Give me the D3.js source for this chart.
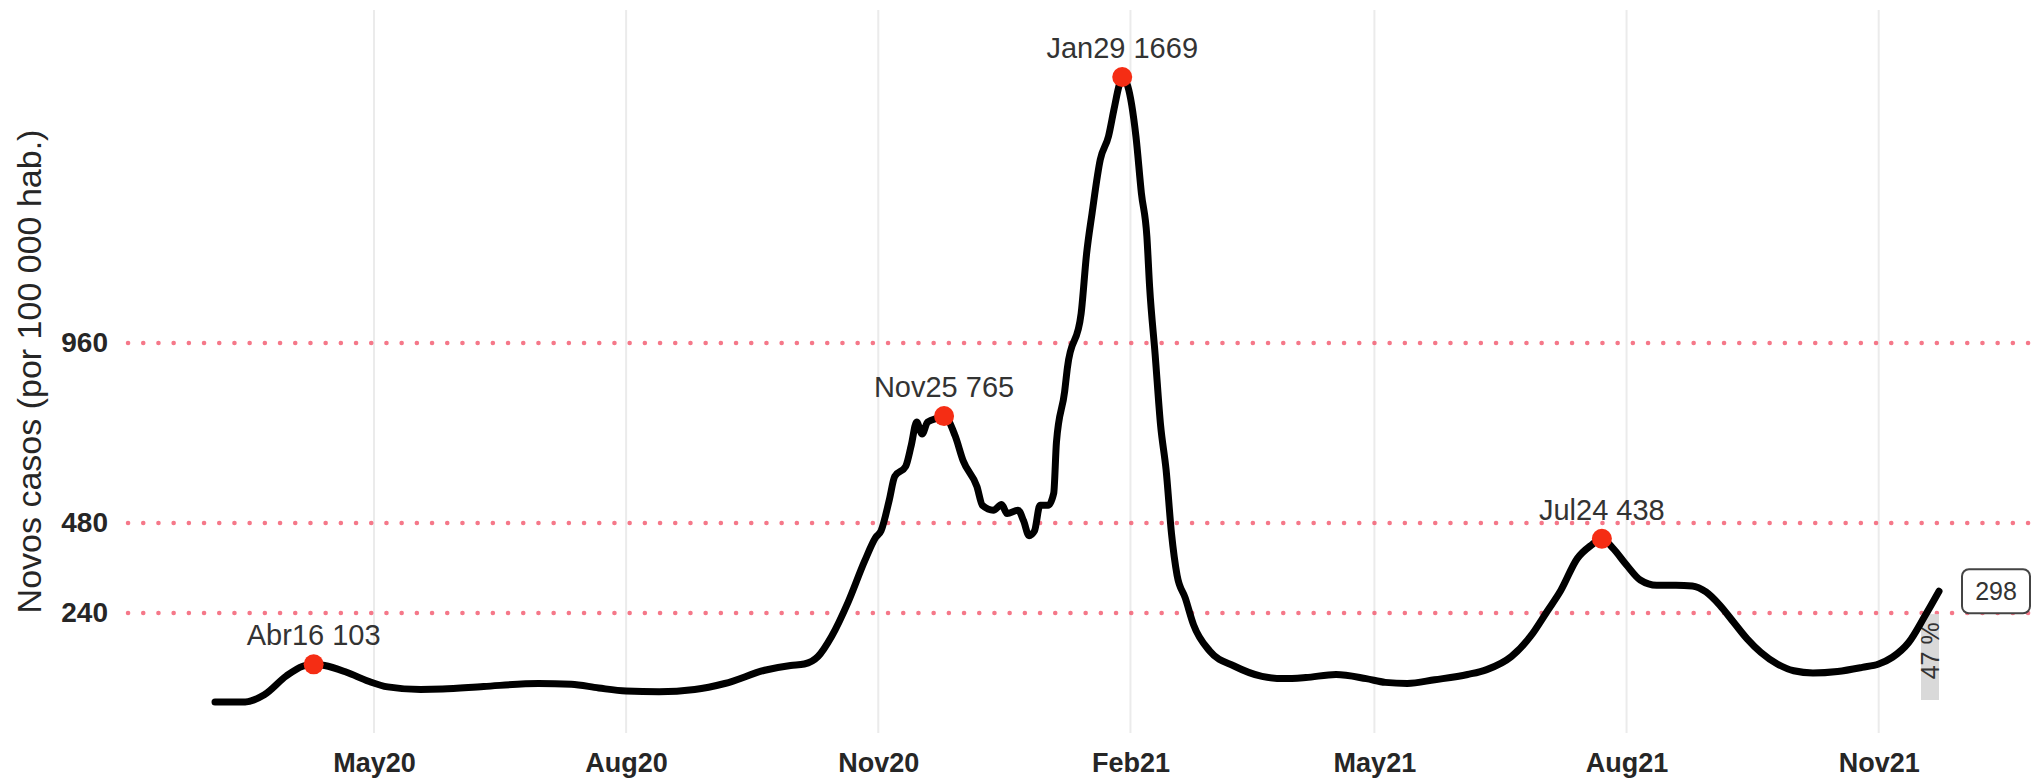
<!DOCTYPE html>
<html>
<head>
<meta charset="utf-8">
<script src="https://cdn.jsdelivr.net/npm/d3@7"></script>
<style>
  body { margin: 0; background: #fff; }
  svg { display: block; font-family: "Liberation Sans", Arial, sans-serif; }
</style>
</head>
<body>
<svg id="chart" width="2039" height="782"></svg>
<script>
// daily new cases per 100 000
const dates = [
  "2020-03-04","2020-03-15","2020-03-22","2020-03-30","2020-04-05","2020-04-09","2020-04-13","2020-04-21","2020-04-29",
  "2020-05-06","2020-05-18","2020-05-26","2020-06-10","2020-06-30","2020-07-12","2020-07-22","2020-08-01","2020-08-13",
  "2020-08-26","2020-09-06","2020-09-21","2020-09-30","2020-10-05","2020-10-10","2020-10-15","2020-10-21","2020-10-27",
  "2020-10-31","2020-11-02","2020-11-05","2020-11-07","2020-11-11","2020-11-13","2020-11-15","2020-11-17","2020-11-19",
  "2020-11-23","2020-11-25","2020-11-29","2020-12-02","2020-12-07","2020-12-09","2020-12-13","2020-12-16","2020-12-18",
  "2020-12-22","2020-12-24","2020-12-26","2020-12-28","2020-12-30","2021-01-02","2021-01-04","2021-01-05","2021-01-08",
  "2021-01-09","2021-01-14","2021-01-16","2021-01-18","2021-01-21","2021-01-24","2021-01-26","2021-01-28","2021-01-29",
  "2021-01-31","2021-02-03","2021-02-05","2021-02-07","2021-02-08","2021-02-10","2021-02-12","2021-02-14","2021-02-16",
  "2021-02-18","2021-02-21","2021-02-24","2021-03-02","2021-03-11","2021-03-21","2021-03-29","2021-04-06","2021-04-17",
  "2021-04-28","2021-05-05","2021-05-13","2021-05-23","2021-06-04","2021-06-11","2021-06-20","2021-06-27","2021-07-03",
  "2021-07-08","2021-07-14","2021-07-19","2021-07-23","2021-07-27","2021-08-01","2021-08-06","2021-08-12","2021-08-19",
  "2021-08-25","2021-08-30","2021-09-04","2021-09-09","2021-09-14","2021-09-19","2021-09-25","2021-10-01","2021-10-08",
  "2021-10-17","2021-10-26","2021-11-01","2021-11-06","2021-11-12","2021-11-18","2021-11-23"
];
const cases = [
  3, 3, 22, 72, 98, 103, 100, 82, 58,
  43, 36, 37, 44, 52, 50, 40, 32, 30,
  36, 52, 88, 100, 104, 124, 178, 269, 378,
  441, 459, 541, 604, 631, 686, 749, 717, 749,
  760, 765, 713, 645, 577, 527, 514, 529, 505,
  514, 486, 446, 459, 527, 527, 559, 695, 831,
  894, 1038, 1198, 1306, 1449, 1511, 1583, 1650, 1669,
  1645, 1511, 1359, 1243, 1109, 930, 740, 622, 450,
  341, 280, 209, 138, 98, 71, 65, 68, 76,
  65, 55, 52, 62, 76, 89, 124, 178, 244,
  300, 385, 420, 438, 413, 368, 328, 314, 314,
  312, 296, 261, 216, 171, 135, 104, 86, 80,
  84, 95, 104, 122, 162, 234, 298
];

// peaks marked with red dots
const peakDates = ["2020-04-09", "2020-11-25", "2021-01-29", "2021-07-23"];
const peakValues = [103, 765, 1669, 438];
const peakLabels = ["Abr16 103", "Nov25 765", "Jan29 1669", "Jul24 438"];

const yTicks = [240, 480, 960];
const xTickDates = ["2020-05-01","2020-08-01","2020-11-01","2021-02-01","2021-05-01","2021-08-01","2021-11-01"];
const xTickLabels = ["May20","Aug20","Nov20","Feb21","May21","Aug21","Nov21"];

const lastLabel = "298";
const changeLabel = "47 %";
const yTitle = "Novos casos (por 100 000 hab.)";

const parse = d3.timeParse("%Y-%m-%d");
const data = dates.map((d, i) => ({date: parse(d), value: cases[i]}));

const width = 2039, height = 782;
const panel = {left: 128, right: 2039, top: 10, bottom: 733};

const svg = d3.select("#chart");

const x = d3.scaleTime()
    .domain(d3.extent(data, d => d.date))
    .range([215, 1939]);
const y = d3.scaleLinear()
    .domain([0, 1669])
    .range([703, 77]);

// vertical grid
svg.append("g")
  .selectAll("line")
  .data(xTickDates)
  .join("line")
    .attr("x1", d => x(parse(d)))
    .attr("x2", d => x(parse(d)))
    .attr("y1", panel.top)
    .attr("y2", panel.bottom)
    .attr("stroke", "#ebebeb")
    .attr("stroke-width", 2);

// dotted reference lines
svg.append("g")
  .selectAll("line")
  .data(yTicks)
  .join("line")
    .attr("x1", panel.left)
    .attr("x2", panel.right)
    .attr("y1", d => y(d))
    .attr("y2", d => y(d))
    .attr("stroke", "#f2566b")
    .attr("stroke-opacity", 0.8)
    .attr("stroke-width", 4.5)
    .attr("stroke-linecap", "round")
    .attr("stroke-dasharray", "0.1 15.1");

// axes
const yAxis = svg.append("g")
    .attr("transform", `translate(${panel.left},0)`)
    .call(d3.axisLeft(y).tickValues(yTicks).tickSize(0).tickPadding(20));
yAxis.select(".domain").remove();
yAxis.selectAll("text")
    .attr("font-size", 28)
    .attr("font-weight", "bold")
    .attr("fill", "#262626")
    .attr("font-family", "Liberation Sans, Arial, sans-serif");

const xAxis = svg.append("g")
    .attr("transform", `translate(0,${panel.bottom})`)
    .call(d3.axisBottom(x)
      .tickValues(xTickDates.map(parse))
      .tickFormat((d, i) => xTickLabels[i])
      .tickSize(0).tickPadding(20));
xAxis.select(".domain").remove();
xAxis.selectAll("text")
    .attr("font-size", 27)
    .attr("font-weight", "bold")
    .attr("fill", "#262626")
    .attr("font-family", "Liberation Sans, Arial, sans-serif");

svg.append("text")
    .attr("transform", `translate(41,${(panel.top + panel.bottom) / 2}) rotate(-90)`)
    .attr("text-anchor", "middle")
    .attr("font-size", 34)
    .attr("fill", "#262626")
    .text(yTitle);

// change bar + label near the end
const last = data[data.length - 1];
const barX = x(last.date) - 9;
svg.append("rect")
    .attr("x", barX - 9)
    .attr("width", 18)
    .attr("y", y(237))
    .attr("height", y(8) - y(237))
    .attr("fill", "#d9d9d9");
svg.append("text")
    .attr("transform", `translate(${barX + 9},${y(139)}) rotate(-90)`)
    .attr("text-anchor", "middle")
    .attr("font-size", 25)
    .attr("fill", "#333")
    .text(changeLabel);

// the curve
const line = d3.line()
    .x(d => x(d.date))
    .y(d => y(d.value))
    .curve(d3.curveMonotoneX);
svg.append("path")
    .datum(data)
    .attr("d", line)
    .attr("fill", "none")
    .attr("stroke", "#000")
    .attr("stroke-width", 7)
    .attr("stroke-linejoin", "round")
    .attr("stroke-linecap", "round");

// peak points
const peaks = peakDates.map((d, i) => ({date: parse(d), value: peakValues[i], label: peakLabels[i]}));
svg.append("g")
  .selectAll("circle")
  .data(peaks)
  .join("circle")
    .attr("cx", d => x(d.date))
    .attr("cy", d => y(d.value))
    .attr("r", 10)
    .attr("fill", "#f52d14");
svg.append("g")
  .selectAll("text")
  .data(peaks)
  .join("text")
    .attr("x", d => x(d.date))
    .attr("y", d => y(d.value) - 19)
    .attr("text-anchor", "middle")
    .attr("font-size", 29)
    .attr("fill", "#333")
    .text(d => d.label);

// last value box
const boxCx = x(last.date) + 57, boxCy = y(last.value);
const boxW = 68, boxH = 44;
svg.append("rect")
    .attr("x", boxCx - boxW / 2)
    .attr("y", boxCy - boxH / 2)
    .attr("width", boxW)
    .attr("height", boxH)
    .attr("rx", 7)
    .attr("fill", "#fff")
    .attr("stroke", "#444")
    .attr("stroke-width", 2);
svg.append("text")
    .attr("x", boxCx)
    .attr("y", boxCy)
    .attr("dy", "0.35em")
    .attr("text-anchor", "middle")
    .attr("font-size", 25)
    .attr("fill", "#333")
    .text(lastLabel);
</script>
</body>
</html>
